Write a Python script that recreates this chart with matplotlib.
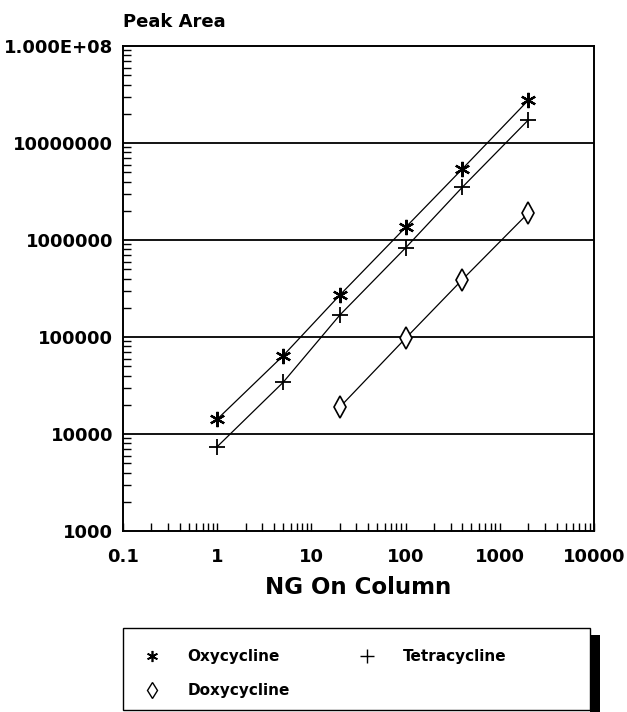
import matplotlib
matplotlib.use("Agg")
import matplotlib.pyplot as plt
from matplotlib.ticker import LogLocator, NullFormatter, FixedLocator, FixedFormatter
from matplotlib.patches import Rectangle
from matplotlib.lines import Line2D

plt.rcParams['font.family'] = ['DejaVu Sans']
plt.rcParams['font.weight'] = 'bold'

# Data
oxy_x = [1, 5, 20, 100, 400, 2000]
oxy_y = [14200, 64000, 270000, 1350000, 5400000, 27500000]
tet_x = [1, 5, 20, 100, 400, 2000]
tet_y = [7400, 34000, 168000, 830000, 3500000, 17200000]
dox_x = [20, 100, 400, 2000]
dox_y = [18900, 97000, 390000, 1890000]

x_ticks = [0.1, 1, 10, 100, 1000, 10000]
x_labels = ['0.1', '1', '10', '100', '1000', '10000']
y_ticks = [1e3, 1e4, 1e5, 1e6, 1e7, 1e8]
y_labels = ['1000', '10000', '100000', '1000000', '10000000', '1.000E+08']

W, H = 627, 712
fig = plt.figure(figsize=(W / 100, H / 100), dpi=100)
L, R, T, B = 123, 594, 46, 531
ax = fig.add_axes([L / W, 1 - B / H, (R - L) / W, (B - T) / H])
ax.set_xscale('log')
ax.set_yscale('log')
ax.set_xlim(0.1, 10000)
ax.set_ylim(1e3, 1e8)

for y in y_ticks[1:-1]:
    ax.axhline(y, color='black', lw=1.3, zorder=1)

lw = 0.9
ax.plot(oxy_x, oxy_y, color='black', lw=lw, marker=(6, 2, 0), ms=11, mew=1.6, zorder=3)
ax.plot(tet_x, tet_y, color='black', lw=lw, marker='+', ms=12, mew=1.3, zorder=3)
ax.plot(dox_x, dox_y, color='black', lw=lw, marker='d', ms=11, mew=1.2,
        mfc='white', mec='black', zorder=3)

ax.xaxis.set_major_locator(FixedLocator(x_ticks))
ax.xaxis.set_major_formatter(FixedFormatter(x_labels))
ax.xaxis.set_minor_locator(LogLocator(base=10, subs=range(2, 10)))
ax.xaxis.set_minor_formatter(NullFormatter())
ax.yaxis.set_major_locator(FixedLocator(y_ticks))
ax.yaxis.set_major_formatter(FixedFormatter(y_labels))
ax.yaxis.set_minor_locator(LogLocator(base=10, subs=range(2, 10)))
ax.yaxis.set_minor_formatter(NullFormatter())

ax.tick_params(which='both', direction='in', color='black', width=1.0)
ax.tick_params(which='major', length=5.5, labelsize=13)
ax.tick_params(which='minor', length=5.5)
ax.tick_params(axis='x', which='major', pad=12.5)
ax.tick_params(axis='y', which='major', length=0, pad=7)
for s in ax.spines.values():
    s.set_linewidth(1.4)

ax.set_xlabel('NG On Column', fontsize=16.5, fontweight='bold', va='center')
ax.xaxis.set_label_coords(0.5, (B - 588) / (B - T))
fig.text(L / W, 1 - 22 / H, 'Peak Area', fontsize=13, ha='left', va='center')

handles = [
    Line2D([], [], ls='none', color='black', marker=(6, 2, 0), ms=8, mew=1.2),
    Line2D([], [], ls='none', color='black', marker='d', ms=8, mew=1.0, mfc='white'),
    Line2D([], [], ls='none', color='black', marker='+', ms=10, mew=1.0),
]
labels = ['Oxycycline', 'Doxycycline', 'Tetracycline']
leg = fig.legend(handles, labels, ncol=2, loc='upper left',
                 bbox_to_anchor=(138 / W, 1 - 649 / H), frameon=False, fontsize=11,
                 handlelength=1.8, handletextpad=1.44, columnspacing=4.15,
                 borderpad=0, labelspacing=1.25, borderaxespad=0)

# legend frame and its shadow
fig.patches.append(Rectangle((590 / W, 0.0), 10 / W, 1 - 635 / H, transform=fig.transFigure,
                             facecolor='black', edgecolor='none', zorder=0))
fig.patches.append(Rectangle((123 / W, 1 - 710 / H), 467 / W, 82 / H, transform=fig.transFigure,
                             facecolor='white', edgecolor='black', lw=1.0, zorder=1))

fig.savefig('out.png', dpi=100)
